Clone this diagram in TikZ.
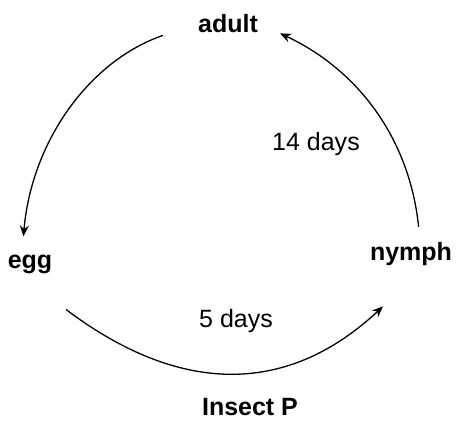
\documentclass[tikz,border=0pt]{standalone}
\usepackage{fontspec}
\setmainfont{Liberation Sans}
\usepackage{tikz}
\usetikzlibrary{arrows.meta}

\begin{document}
\begin{tikzpicture}[x=1pt,y=1pt,font=\fontsize{25}{30}\selectfont,>={Stealth[length=11pt,width=9pt]},
  stage/.style={inner sep=2pt,anchor=base,font=\fontsize{25}{30}\selectfont\bfseries},
  lapse/.style={inner sep=2pt,anchor=base},
  cyc/.style={->,draw=black,line width=1.3pt}]
\useasboundingbox (0,0) rectangle (457,421);
\node[stage] (adult) at (228,388) {adult};
\node[stage] (egg) at (30,153) {egg};
\node[stage] (nymph) at (411,161) {nymph};
\node[lapse] (long) at (316,271) {14 days};
\node[lapse] (short) at (236,94) {5 days};
\node[stage] (title) at (250,6) {Insect P};
\draw[cyc,shorten <=35pt,shorten >=16pt] (adult.west) to[out=199,in=85] ([xshift=-8pt]egg.north);
\draw[cyc,shorten <=13pt,shorten >=22pt] ([xshift=9pt]nymph.north) to[out=96,in=335] (adult.east);
\draw[cyc] ([shift={(36pt,-34pt)}]egg.south) to[out=323,in=223,looseness=1.1] ([shift={(-28pt,-39pt)}]nymph.south);
\end{tikzpicture}
\end{document}
